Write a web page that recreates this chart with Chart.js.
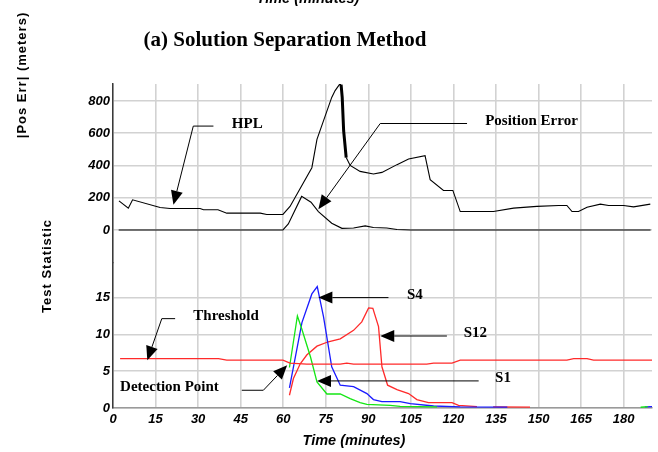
<!DOCTYPE html>
<html>
<head>
<meta charset="utf-8">
<script src="https://cdn.jsdelivr.net/npm/chart.js@4/dist/chart.umd.min.js"></script>
<style>
  body { margin: 0; background: #fff; }
  #wrap { position: relative; width: 658px; height: 452px; overflow: hidden; background: #fff; }
  #wrap canvas { position: absolute; left: 0; top: 0; }
  .lbl { position: absolute; white-space: nowrap; color: #000; font-weight: bold;
         font-family: "Liberation Sans", Arial, sans-serif; transform: translate(-50%, -50%); }
  .rot { transform: translate(-50%, -50%) rotate(-90deg); font-size: 13px; line-height: 13px; letter-spacing: 1px; }
  .time { font-style: italic; font-size: 14.5px; line-height: 14px; }
  #title { left: 285px; top: 39px; font-family: "Liberation Serif", "Times New Roman", serif;
           font-size: 21px; line-height: 21px; }
</style>
</head>
<body>
<div id="wrap">
  <canvas id="topChart" width="658" height="452"></canvas>
  <canvas id="botChart" width="658" height="452"></canvas>
  <div class="lbl time" style="left:308px; top:-2px;">Time (minutes)</div>
  <div class="lbl" id="title">(a) Solution Separation Method</div>
  <div class="lbl rot" style="left:21px; top:75px;">|Pos Err| (meters)</div>
  <div class="lbl rot" style="left:46px; top:266px;">Test Statistic</div>
  <div class="lbl time" style="left:354px; top:440px;">Time (minutes)</div>
</div>
<script>
// ---- data (time in minutes) ----
const xTicks = [0, 15, 30, 45, 60, 75, 90, 105, 120, 135, 150, 165, 180];
const posTicks = [0, 200, 400, 600, 800];
const statTicks = [0, 5, 10, 15];

const hplTime = [2.1, 5.4, 6.9, 16.6, 20.1, 30.7, 31.9, 37, 40.1, 51.9, 54.2, 59.9, 62.4, 70.1, 71.9, 77.1, 78.3, 79.8, 80.4,
  80.8, 81.3, 82.2, 83.6, 87.1, 91.8, 94.8, 100.1, 104.2, 110, 111.8, 116.5, 119.8, 122.4, 134.1, 141.2, 149.4, 157.1,
  160, 161.8, 164.1, 167.1, 171.8, 174.7, 180, 183.5, 189.4];
const hplVal = [180, 135, 187, 139, 133, 133, 125, 125, 104, 104, 96, 96, 146, 386, 562, 822, 864, 901, 901,
  822, 615, 449, 400, 363, 347, 357, 405, 440, 461, 312, 245, 245, 114, 114, 135, 146, 152,
  152, 114, 114, 141, 160, 152, 152, 143, 160];

const errTime = [2, 59.9, 61.8, 66.5, 69.8, 72.4, 77.1, 80.7, 84.8, 88.9, 91.8, 96.5, 100.1, 105, 189.5];
const errVal = [0, 0, 37, 208, 172, 114, 42, 10, 12, 25, 15, 12, 3, 0, 0];

const thrTime = [2.5, 37.2, 40.1, 59.9, 62.4, 68.3, 80.1, 82.4, 84.8, 110.6, 113, 119.5, 122.4, 160, 162.4, 167.1, 169.4, 190];
const thrVal = [6.7, 6.7, 6.5, 6.5, 6.1, 5.95, 5.95, 6.1, 5.95, 5.95, 6.1, 6.1, 6.5, 6.5, 6.7, 6.7, 6.5, 6.5];

const s12Time = [62.2, 63.6, 66, 68.3, 71.9, 75.9, 80.1, 84.8, 87.7, 90.1, 91.6, 93.6, 94.8, 96.8, 100.1, 104.2,
  107.1, 111.2, 119.5, 121.8, 128.3, 131, 134, 147];
const s12Val = [1.73, 4.0, 6.0, 7.2, 8.4, 9.0, 9.4, 10.55, 11.7, 13.6, 13.55, 11.05, 5.6, 3.1, 2.5, 1.96,
  1.15, 0.74, 0.74, 0.37, 0.2, null, 0.15, 0.12];

const s4Time = [62.2, 66.6, 70.1, 72, 74.2, 77.1, 80.1, 84.8, 89.5, 91.8, 94.8, 101.2, 104.8, 113, 122.4, 139, 150, 187.5, 190];
const s4Val = [2.73, 11.6, 15.5, 16.5, 12.4, 5.6, 3.1, 2.9, 1.96, 1.15, 0.87, 0.87, 0.6, 0.27, 0.14, 0.12, null, 0.15, 0.2];

const s1Time = [62.2, 65, 66.5, 69.6, 71.9, 75.4, 80.1, 83.6, 87.1, 89.5, 97.7, 101.2, 114.2, 120, 186, 188.5];
const s1Val = [5.5, 12.5, 10.8, 6.96, 3.55, 1.9, 1.9, 1.28, 0.74, 0.5, 0.37, 0.23, 0.14, null, 0.1, 0.2];

// callouts: text anchor and leader path (last point = arrow tip), in data units
const topNotes = [
  { text: 'HPL', at: [41.9, 654], path: [[35.4, 644], [28.3, 644], [21.3, 156]] },
  { text: 'Position Error', at: [131.2, 675], path: [[124.8, 660], [94.2, 660], [72.4, 129]] }
];
const botNotes = [
  { text: 'Threshold', at: [28.3, 12.5], path: [[21.9, 12.14], [17.2, 12.14], [12.1, 6.5]] },
  { text: 'Detection Point', at: [2.5, 2.78], path: [[45.4, 2.41], [53, 2.41], [61.4, 5.8]] },
  { text: 'S4', at: [103.6, 15.4], path: [[97.1, 15.0], [72.4, 15.0]] },
  { text: 'S12', at: [123.6, 10.15], path: [[117.7, 9.78], [94.2, 9.78]] },
  { text: 'S1', at: [134.7, 4.0], path: [[128.9, 3.68], [71.9, 3.68]] }
];

const zip = (xs, ys) => xs.map((x, i) => ({ x: x, y: ys[i] }));

const tickFont = { family: '"Liberation Sans", Arial, sans-serif', size: 13, weight: 'bold', style: 'italic' };
const gridColor = '#d2d2d2';

// draws the text callouts with leader lines and filled arrowheads
const calloutPlugin = {
  id: 'callouts',
  afterDatasetsDraw(chart, args, opts) {
    const notes = opts.notes || [];
    const xs = chart.scales.x, ys = chart.scales.y;
    const ctx = chart.ctx;
    ctx.save();
    ctx.strokeStyle = '#000';
    ctx.fillStyle = '#000';
    ctx.lineWidth = 1;
    notes.forEach(n => {
      const pts = n.path.map(p => [xs.getPixelForValue(p[0]), ys.getPixelForValue(p[1])]);
      const tip = pts[pts.length - 1], prev = pts[pts.length - 2];
      const dx = tip[0] - prev[0], dy = tip[1] - prev[1];
      const len = Math.hypot(dx, dy);
      const ux = dx / len, uy = dy / len;
      const headLen = 14, headW = 6;
      const bx = tip[0] - ux * headLen, by = tip[1] - uy * headLen;

      ctx.beginPath();
      ctx.moveTo(pts[0][0], pts[0][1]);
      for (let i = 1; i < pts.length - 1; i++) ctx.lineTo(pts[i][0], pts[i][1]);
      ctx.lineTo(bx, by);
      ctx.stroke();

      ctx.beginPath();
      ctx.moveTo(tip[0], tip[1]);
      ctx.lineTo(bx - uy * headW, by + ux * headW);
      ctx.lineTo(bx + uy * headW, by - ux * headW);
      ctx.closePath();
      ctx.fill();

      ctx.font = 'bold 15px "Liberation Serif", "Times New Roman", serif';
      ctx.textAlign = 'left';
      ctx.textBaseline = 'middle';
      ctx.fillText(n.text, xs.getPixelForValue(n.at[0]), ys.getPixelForValue(n.at[1]));
    });
    ctx.restore();
  }
};

const xScale = (showTicks) => ({
  type: 'linear',
  min: 0,
  max: 190,
  afterBuildTicks: s => { s.ticks = xTicks.map(v => ({ value: v })); },
  ticks: { display: showTicks, font: tickFont, color: '#000', padding: 4, maxRotation: 0 },
  grid: { color: gridColor, lineWidth: 1.6, drawTicks: false },
  border: { display: showTicks, color: '#9a9a9a', width: 1.5 },
  afterFit: s => { s.height = showTicks ? 44 : 0; }
});

const yScale = (min, max, ticks) => ({
  min: min,
  max: max,
  afterBuildTicks: s => { s.ticks = ticks.map(v => ({ value: v })); },
  ticks: { font: tickFont, color: '#000', padding: 3 },
  grid: { color: gridColor, lineWidth: 1.5, drawTicks: false },
  border: { color: '#3a3a3a', width: 1.5 },
  afterFit: s => { s.width = 113; }
});

const line = (data, color, width) => ({
  data: data,
  borderColor: color,
  borderWidth: width,
  pointRadius: 0,
  tension: 0,
  fill: false
});

// top panel: HPL and position error
const hplSet = line(zip(hplTime, hplVal), '#000', 1.1);
hplSet.segment = {
  borderWidth: c => (hplTime[c.p0DataIndex] >= 80.3 && hplTime[c.p1DataIndex] <= 82.3) ? 3 : 1.1
};

new Chart(document.getElementById('topChart'), {
  type: 'line',
  data: { datasets: [hplSet, line(zip(errTime, errVal), '#000', 1.1)] },
  options: {
    responsive: false,
    animation: false,
    layout: { padding: { top: 84, right: 6, bottom: 189, left: 0 } },
    scales: { x: xScale(false), y: yScale(-205, 905, posTicks) },
    plugins: { legend: { display: false }, tooltip: { enabled: false }, callouts: { notes: topNotes } }
  },
  plugins: [calloutPlugin]
});

// bottom panel: test statistics
new Chart(document.getElementById('botChart'), {
  type: 'line',
  data: {
    datasets: [
      line(zip(thrTime, thrVal), '#ff2a2a', 1.2),
      line(zip(s1Time, s1Val), '#14e614', 1.3),
      line(zip(s4Time, s4Val), '#1a1aff', 1.3),
      line(zip(s12Time, s12Val), '#ff2a2a', 1.3)
    ]
  },
  options: {
    responsive: false,
    animation: false,
    layout: { padding: { top: 263, right: 6, bottom: 0, left: 0 } },
    scales: { x: xScale(true), y: yScale(0, 19.7, statTicks) },
    plugins: { legend: { display: false }, tooltip: { enabled: false }, callouts: { notes: botNotes } }
  },
  plugins: [calloutPlugin]
});
</script>
</body>
</html>
